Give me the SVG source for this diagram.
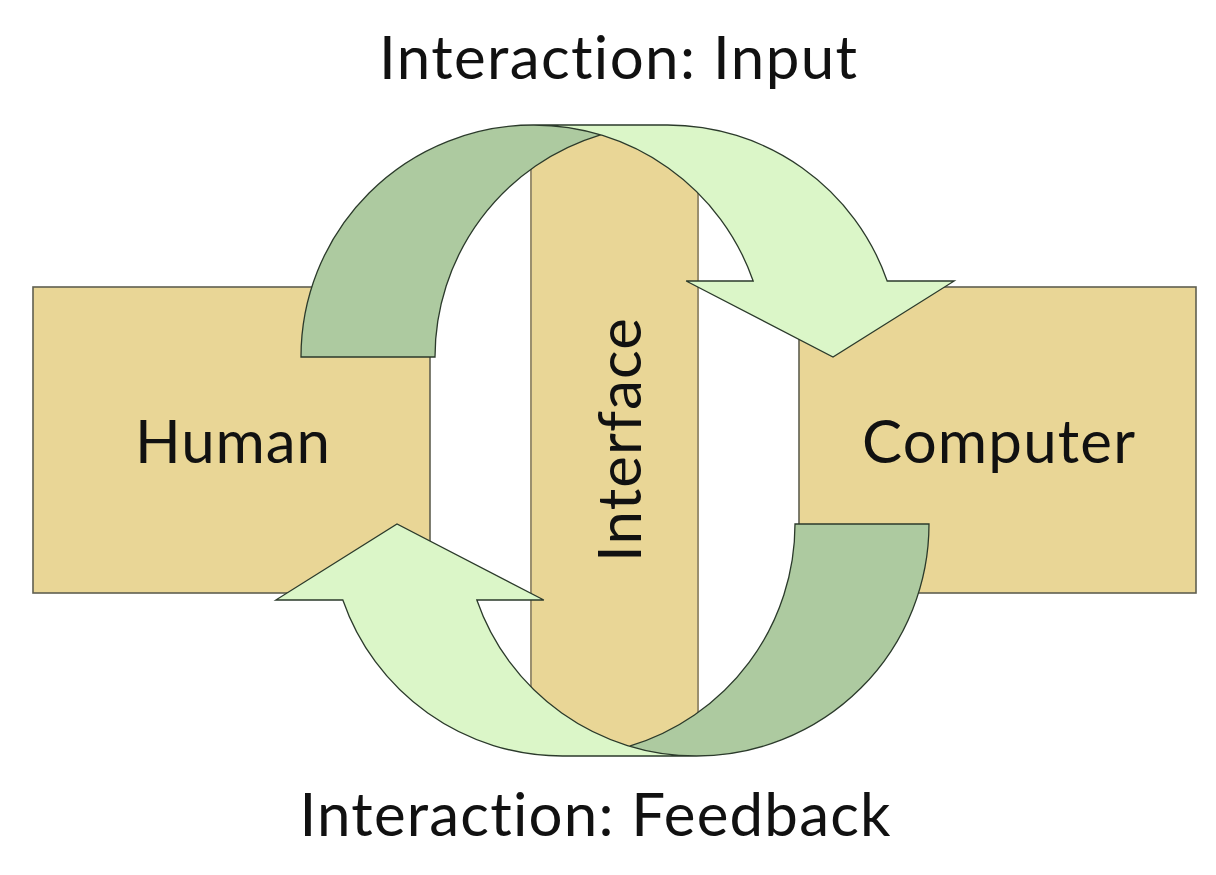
<svg xmlns="http://www.w3.org/2000/svg" width="1216" height="875" viewBox="0 0 1216 875">
  <defs>
    <style>
      .box { fill: #E9D696; stroke: #5f5f50; stroke-width: 1.6; }
      .iface { fill: #E9D696; stroke: #9a8f6e; stroke-width: 2; }
      .lbl { font-family: "Lato", "Open Sans", "Liberation Sans", sans-serif; font-size: 60px; fill: #111; text-anchor: middle; font-variant-ligatures: none; font-feature-settings: "liga" 0, "clig" 0; }
      .front { fill: #DBF6C8; stroke: none; }
      .back { fill: #ADCAA0; stroke: none; }
      .outline { fill: none; stroke: #2b3a2b; stroke-width: 1.3; stroke-linejoin: miter; }
    </style>
    <g id="curved-arrow">
      <path class="front" d="M 833 357 L 686.17 281 L 753.17 281 A 232.5 232 0 0 0 533.5 125 L 667.5 125 A 232.5 232 0 0 1 887.17 281 L 954.17 281 Z"/>
      <path class="back" d="M 600.5 134.84 A 232.5 232 0 0 0 435 357 L 301 357 A 232.5 232 0 0 1 600.5 134.84 Z"/>
      <path class="outline" d="M 600.5 134.84 A 232.5 232 0 0 0 435 357 L 301 357 A 232.5 232 0 0 1 533.5 125 L 667.5 125 A 232.5 232 0 0 1 887.17 281 L 954.17 281 L 833 357 L 686.17 281 L 753.17 281 A 232.5 232 0 0 0 533.5 125"/>
    </g>
  </defs>
  <rect x="0" y="0" width="1216" height="875" fill="#ffffff"/>

  <g id="node-human">
    <rect class="box" x="33" y="287" width="397" height="306"/>
    <text class="lbl" x="232.5" y="463" textLength="195">Human</text>
  </g>

  <g id="node-computer">
    <rect class="box" x="799" y="287" width="397" height="306"/>
    <text class="lbl" x="998.5" y="463" textLength="273">Computer</text>
  </g>

  <g id="node-interface">
    <rect class="iface" x="531" y="128" width="167" height="625"/>
    <text class="lbl" transform="translate(641 440) rotate(-90)" x="0" y="0" textLength="244">Interface</text>
  </g>

  <g id="connectors">
    <g id="arrow-input">
      <use href="#curved-arrow"/>
    </g>
    <g id="arrow-feedback">
      <use href="#curved-arrow" transform="rotate(180 615 440.5)"/>
    </g>
  </g>

  <g id="labels">
    <text id="label-input" class="lbl" x="618" y="79" textLength="478">Interaction: Input</text>
    <text id="label-feedback" class="lbl" x="595" y="836" textLength="591">Interaction: Feedback</text>
  </g>
</svg>
